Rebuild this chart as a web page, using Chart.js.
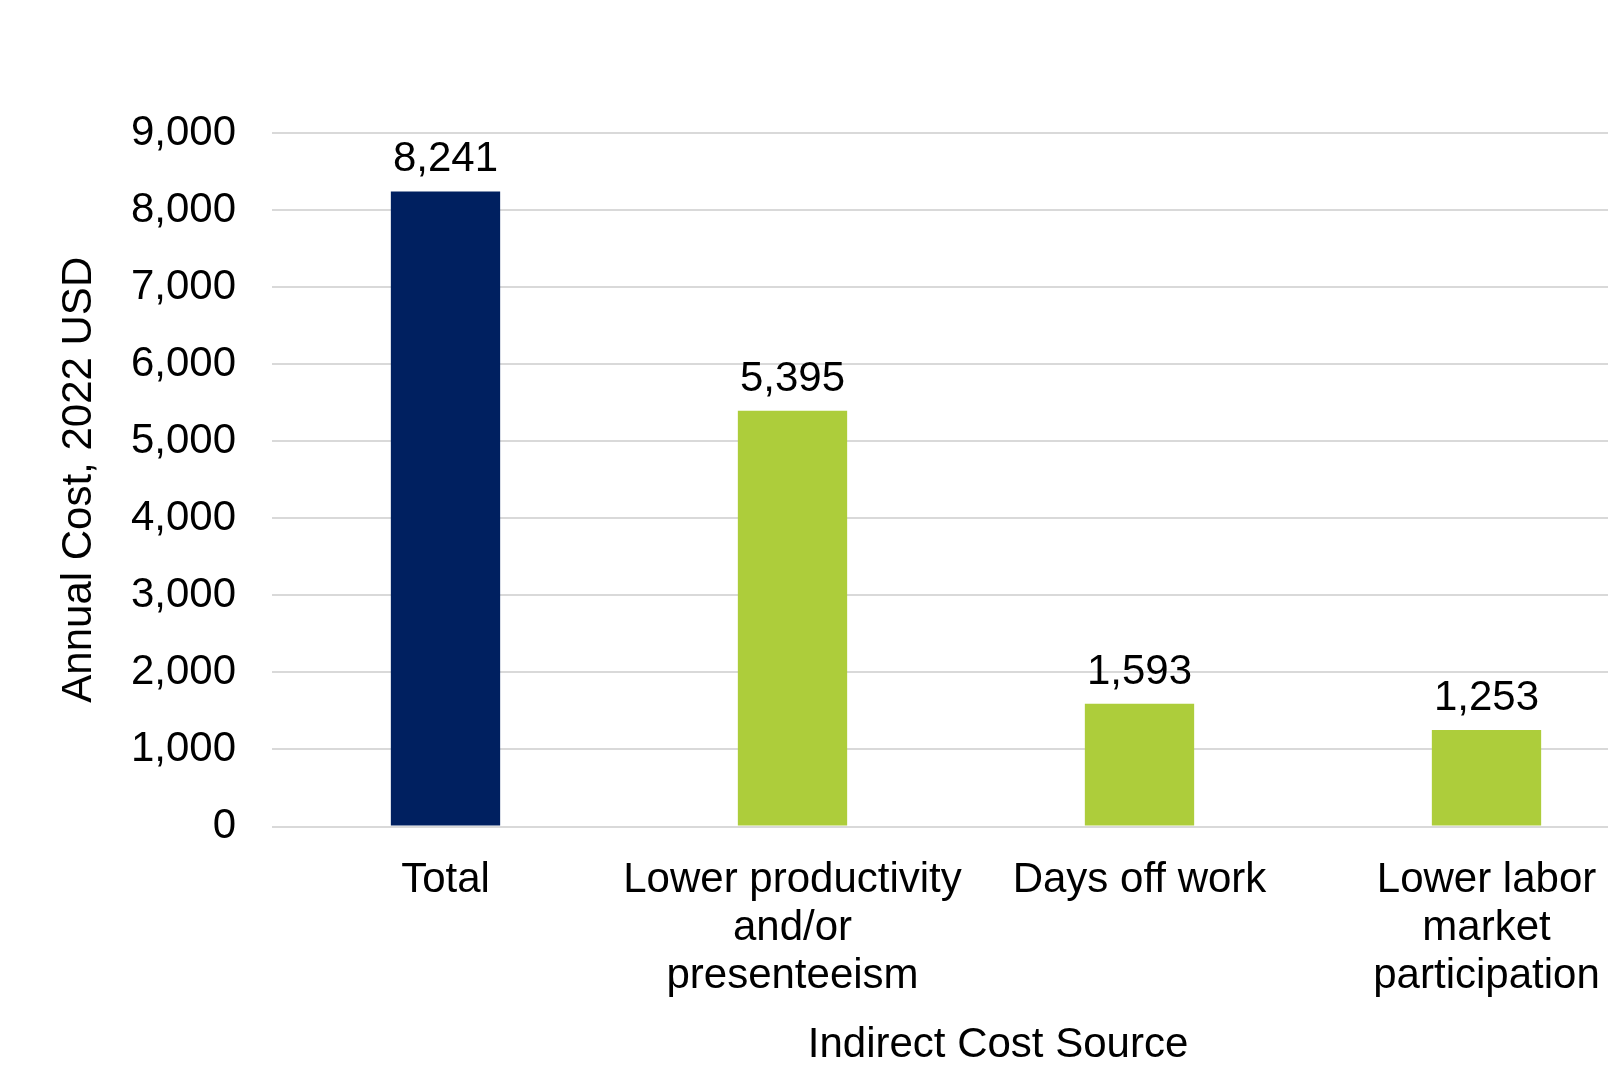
<!DOCTYPE html>
<html>
<head>
<meta charset="utf-8">
<script src="https://cdn.jsdelivr.net/npm/chart.js@4"></script>
<style>
  html, body { margin: 0; padding: 0; background: #fff; overflow: hidden; }
  #wrap { position: relative; width: 1660px; height: 1067px; }
</style>
</head>
<body>
<div id="wrap"><canvas id="chart"></canvas></div>
<script>
const categories = [
    'Total',
    ['Lower productivity', 'and/or', 'presenteeism'],
    'Days off work',
    ['Lower labor', 'market', 'participation']
];
const costValues = [8241, 5395, 1593, 1253];
const barColors = ['#002060', '#adcd3b', '#adcd3b', '#adcd3b'];
const yTicks = [0, 1000, 2000, 3000, 4000, 5000, 6000, 7000, 8000, 9000];
const xTitle = 'Indirect Cost Source';

const FONT = "'Liberation Sans', Arial, sans-serif";

// value labels above the bars, plus the x axis title (sits a bit right of centre)
const barLabels = {
    id: 'barLabels',
    afterDatasetsDraw(chart) {
        const ctx = chart.ctx;
        const meta = chart.getDatasetMeta(0);
        ctx.save();
        ctx.font = '42px ' + FONT;
        ctx.fillStyle = '#000';
        ctx.textAlign = 'center';
        ctx.textBaseline = 'alphabetic';
        meta.data.forEach(function(bar, i) {
            ctx.fillText(costValues[i].toLocaleString('en-US'), bar.x, bar.y - 20);
        });
        const area = chart.chartArea;
        ctx.textBaseline = 'middle';
        ctx.fillText(xTitle, (area.left + area.right) / 2 + 32, chart.height - 22);
        ctx.restore();
    }
};

new Chart(document.getElementById('chart'), {
    type: 'bar',
    data: {
        labels: categories,
        datasets: [{
            data: costValues,
            backgroundColor: barColors,
            borderWidth: 0,
            barPercentage: 0.315,
            categoryPercentage: 1
        }]
    },
    options: {
        responsive: true,
        maintainAspectRatio: false,
        animation: false,
        layout: { padding: { top: 133, left: 0, right: 0, bottom: 0 } },
        plugins: {
            legend: { display: false },
            tooltip: { enabled: false }
        },
        scales: {
            x: {
                afterFit: function(s) { s.height = 240.5; },
                grid: { display: false, drawTicks: false },
                border: { display: false },
                ticks: {
                    color: '#000',
                    padding: 29.5,
                    font: { family: FONT, size: 42, lineHeight: 1.143 },
                    maxRotation: 0,
                    autoSkip: false
                }
            },
            y: {
                min: 0,
                max: 9000,
                afterFit: function(s) { s.width = 272; },
                afterBuildTicks: function(s) {
                    s.ticks = yTicks.map(function(v) { return { value: v }; });
                },
                grid: { color: '#d9d9d9', lineWidth: 2, drawTicks: false },
                border: { display: false },
                ticks: {
                    color: '#000',
                    padding: 36,
                    font: { family: FONT, size: 42 },
                    callback: function(v) { return v.toLocaleString('en-US'); }
                },
                title: {
                    display: true,
                    text: 'Annual Cost, 2022 USD',
                    color: '#000',
                    font: { family: FONT, size: 42, lineHeight: 1 },
                    padding: { top: 58, bottom: 0 }
                }
            }
        }
    },
    plugins: [barLabels]
});
</script>
</body>
</html>
